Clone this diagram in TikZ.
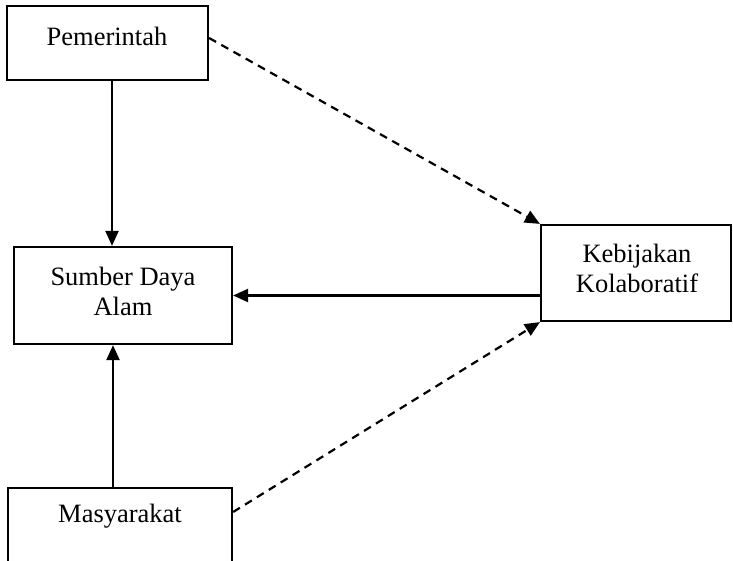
\documentclass[tikz,border=0pt]{standalone}
\usepackage{fontspec}
\setmainfont{Liberation Serif}
\usetikzlibrary{arrows.meta,calc}
\begin{document}
\begin{tikzpicture}[x=1pt,y=-1pt,
  box/.style={draw, line width=2.2pt, rectangle, inner sep=0pt},
  txt/.style={font=\fontsize{26.5}{30}\selectfont, align=center, inner sep=0pt},
  arr/.style={line width=2.2pt, -{Triangle[length=15pt,width=13pt]}},
  darr/.style={arr, dash pattern=on 8pt off 6pt}]
  \useasboundingbox (0,0) rectangle (733,560);
  \clip (0,0) rectangle (733,560);
  \fill[white] (0,0) rectangle (733,560);

  % boxes
  \node[box, minimum width=201pt, minimum height=74pt] (pem) at (107.5,43) {};
  \node[box, minimum width=218pt, minimum height=97pt] (sda) at (123,295.5) {};
  \node[box, minimum width=190pt, minimum height=96pt] (keb) at (636,273) {};
  \node[box, minimum width=224pt, minimum height=90pt] (mas) at (120,533) {};

  % labels
  \node[txt] (tpem) at (107,36) {Pemerintah};
  \node[txt] (tsda) at (123,291) {Sumber Daya\\Alam};
  \node[txt] (tkeb) at (637,268) {Kebijakan\\Kolaboratif};
  \node[txt] (tmas) at (120,516) {Masyarakat};

  % connectors
  \draw[arr] ([xshift=4.5pt]pem.south) -- ([xshift=-11pt]sda.north);
  \draw[arr] ([xshift=-7pt]mas.north) -- ([xshift=-10pt]sda.south);
  \draw[arr] (keb.west |- sda.east) -- (sda.east);
  \draw[darr] ([yshift=5pt]pem.east) -- (keb.north west);
  \draw[darr] ([yshift=21pt]mas.east) -- (keb.south west);
\end{tikzpicture}
\end{document}
